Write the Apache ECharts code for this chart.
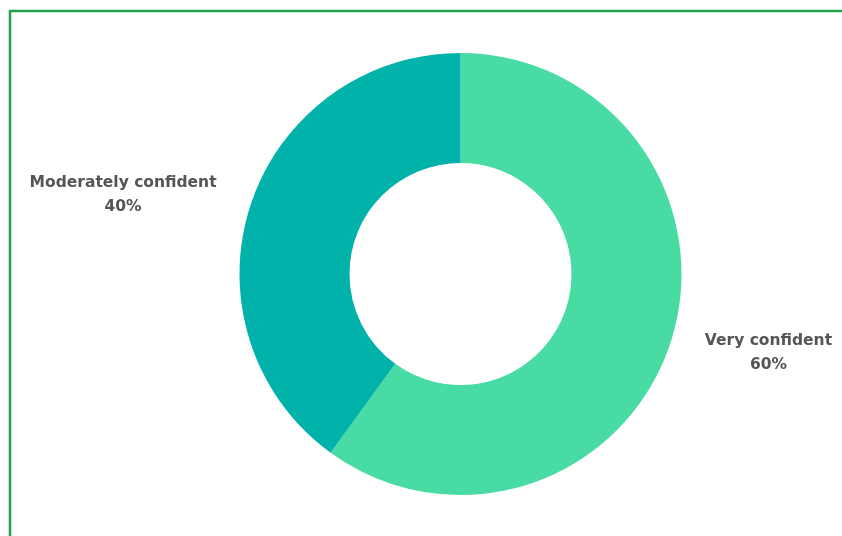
<!DOCTYPE html>
<html>
<head>
<meta charset="utf-8">
<script src="https://cdn.jsdelivr.net/npm/echarts@6/dist/echarts.min.js"></script>
<style>
  html, body { margin: 0; padding: 0; background: #ffffff; }
  #chart { width: 842px; height: 536px; }
</style>
</head>
<body>
<div id="chart"></div>
<script>
// Confidence levels and their share of responses (%)
const categories = ['Very confident', 'Moderately confident'];
const shares = [60, 40];
const sliceColors = ['#48dba4', '#00b2a9'];
const labelWidths = [126, 186];

const chart = echarts.init(document.getElementById('chart'), null, { renderer: 'canvas' });

const option = {
  animation: false,
  backgroundColor: '#ffffff',
  graphic: [{
    type: 'rect',
    shape: { x: 10, y: 11, width: 900, height: 600 },
    style: { fill: 'none', stroke: '#22a04b', lineWidth: 2.5 },
    silent: true
  }],
  series: [{
    type: 'pie',
    center: [460.5, 274],
    radius: [111, 221],
    startAngle: 90,
    clockwise: true,
    data: categories.map((name, i) => ({
      name,
      value: shares[i],
      itemStyle: { color: sliceColors[i] },
      label: { rich: { t: { width: labelWidths[i] } } }
    })),
    label: {
      show: true,
      position: 'outside',
      distanceToLabelLine: 0,
      formatter: '{t|{b}}\n{t|{d}%}',
      rich: {
        t: {
          fontFamily: 'DejaVu Sans',
          fontWeight: 700,
          fontSize: 15.5,
          lineHeight: 24,
          color: '#555555',
          align: 'center'
        }
      }
    },
    labelLine: { show: false, length: 36, length2: 0 }
  }]
};

chart.setOption(option);
</script>
</body>
</html>
